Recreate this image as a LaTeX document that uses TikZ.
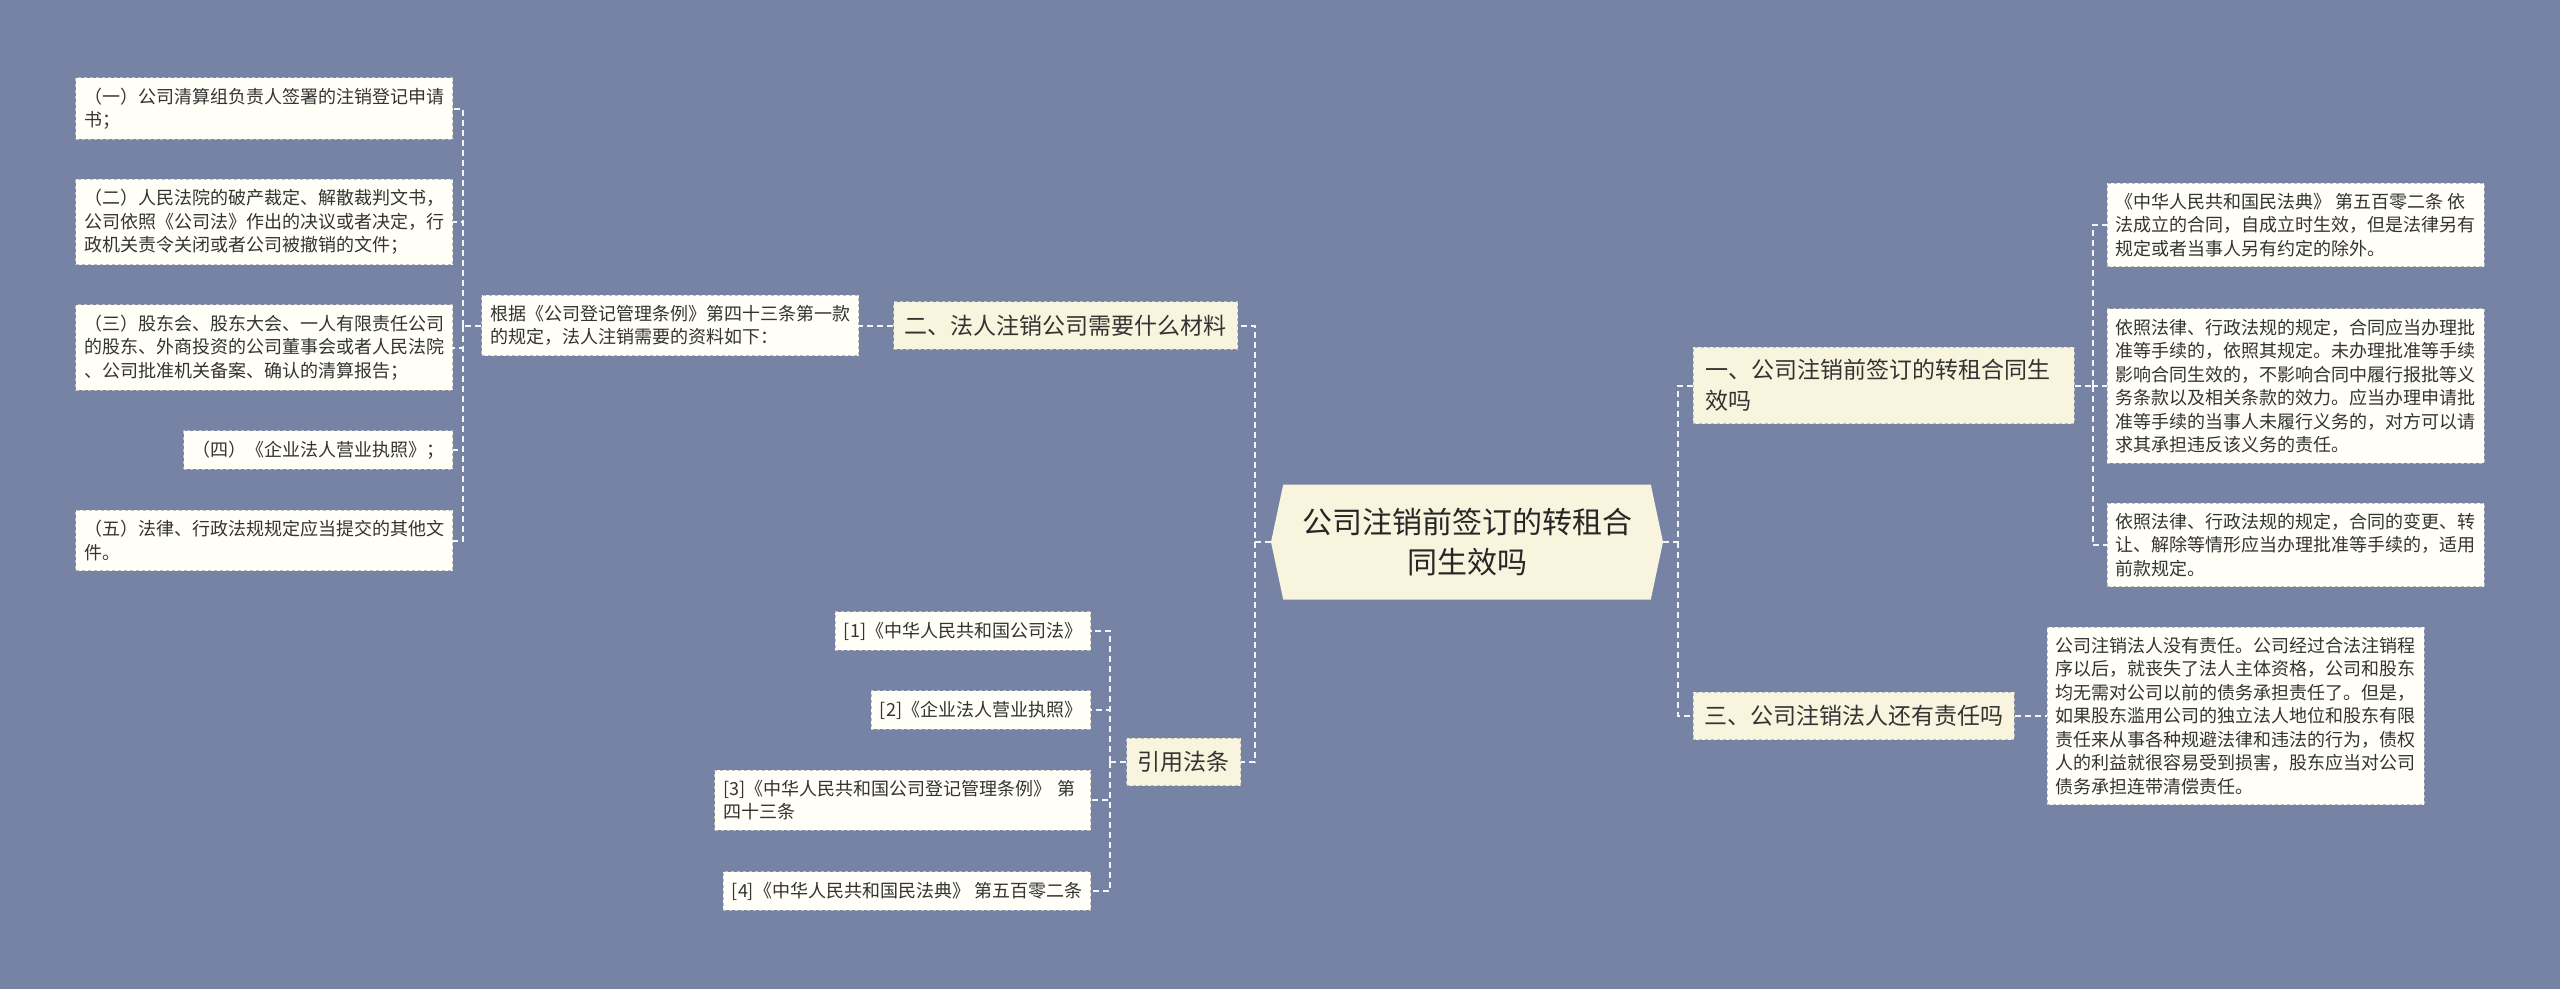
\documentclass[tikz,border=0pt]{standalone}
\usepackage{fontspec}
\setmainfont{Noto Sans CJK SC}
\usetikzlibrary{positioning, shapes.symbols}

\definecolor{bgblue}{RGB}{118,131,164}
\definecolor{leaffill}{RGB}{255,254,247}
\definecolor{branchfill}{RGB}{249,244,222}
\definecolor{edgegray}{RGB}{190,190,190}
\definecolor{linkwhite}{RGB}{242,244,248}
\definecolor{inkgray}{RGB}{51,51,51}

\begin{document}
\begin{tikzpicture}[x=1pt, y=-1pt,
    leaf/.style={draw=edgegray, dashed, line width=0.8pt, fill=leaffill, text=inkgray,
      font=\fontsize{18}{23.5}\selectfont, align=left, inner xsep=8.5pt, inner ysep=10pt},
    branch/.style={draw=edgegray, dashed, line width=0.8pt, fill=branchfill, text=inkgray,
      font=\fontsize{23}{31}\selectfont, align=left, inner xsep=11pt, inner ysep=13pt},
    root/.style={signal, signal to=west and east, signal pointer angle=156,
      fill=branchfill, text=black!85, font=\fontsize{30}{40}\selectfont, align=center,
      minimum width=392pt, minimum height=115pt, inner sep=0pt},
    link/.style={draw=linkwhite, line width=2pt, dash pattern=on 6pt off 4pt}]
    \fill[bgblue] (0,0) rectangle (2560,989);

    % Root
    \node[root] (root) at (1467,542) {公司注销前签订的转租合\\同生效吗};

    % Branches
    \node[branch, anchor=east]  (b2)   at (1238,325.5) {二、法人注销公司需要什么材料};
    \node[branch, anchor=east]  (cite) at (1241,762)   {引用法条};
    \node[branch, anchor=west, text width=356pt, inner xsep=12.5pt, inner ysep=12pt]
                                (b1)   at (1693,385.5) {一、公司注销前签订的转租合同生\\效吗};
    \node[branch, anchor=west]  (b3)   at (1693,716)   {三、公司注销法人还有责任吗};

    % Materials
    \node[leaf, left=34pt of b2] (basis) {根据《公司登记管理条例》第四十三条第一款\\的规定，法人注销需要的资料如下：};
    \node[leaf, anchor=east] (l1) at (453,108.5) {（一）公司清算组负责人签署的注销登记申请\\书；};
    \node[leaf, anchor=east] (l2) at (453,222)   {（二）人民法院的破产裁定、解散裁判文书，\\公司依照《公司法》作出的决议或者决定，行\\政机关责令关闭或者公司被撤销的文件；};
    \node[leaf, anchor=east] (l3) at (453,347.5) {（三）股东会、股东大会、一人有限责任公司\\的股东、外商投资的公司董事会或者人民法院\\、公司批准机关备案、确认的清算报告；};
    \node[leaf, anchor=east] (l4) at (453,450)   {（四）《企业法人营业执照》；};
    \node[leaf, anchor=east] (l5) at (453,540.5) {（五）法律、行政法规规定应当提交的其他文\\件。};

    % Citations
    \node[leaf, anchor=east] (c1) at (1091,631) {[1]《中华人民共和国公司法》};
    \node[leaf, anchor=east] (c2) at (1091,710) {[2]《企业法人营业执照》};
    \node[leaf, anchor=east, text width=359pt] (c3) at (1091,800) {[3]《中华人民共和国公司登记管理条例》 第\\四十三条};
    \node[leaf, anchor=east] (c4) at (1091,891) {[4]《中华人民共和国民法典》 第五百零二条};

    % Contract effect
    \node[leaf, anchor=west] (ra) at (2107,225) {《中华人民共和国民法典》 第五百零二条 依\\法成立的合同，自成立时生效，但是法律另有\\规定或者当事人另有约定的除外。};
    \node[leaf, anchor=west] (rb) at (2107,386) {依照法律、行政法规的规定，合同应当办理批\\准等手续的，依照其规定。未办理批准等手续\\影响合同生效的，不影响合同中履行报批等义\\务条款以及相关条款的效力。应当办理申请批\\准等手续的当事人未履行义务的，对方可以请\\求其承担违反该义务的责任。};
    \node[leaf, anchor=west] (rc) at (2107,545) {依照法律、行政法规的规定，合同的变更、转\\让、解除等情形应当办理批准等手续的，适用\\前款规定。};

    % Liability
    \node[leaf, right=32pt of b3] (rd) {公司注销法人没有责任。公司经过合法注销程\\序以后，就丧失了法人主体资格，公司和股东\\均无需对公司以前的债务承担责任了。但是，\\如果股东滥用公司的独立法人地位和股东有限\\责任来从事各种规避法律和违法的行为，债权\\人的利益就很容易受到损害，股东应当对公司\\债务承担连带清偿责任。};

    % Links, left wing
    \coordinate (jL) at (1255,542);
    \draw[link] (root.west) -- (jL) |- (b2.east);
    \draw[link] (jL) |- (cite.east);
    \draw[link] (b2.west) -- (basis.east);
    \draw[link] (basis.west) -- ++(-18,0) coordinate (jM);
    \foreach \i in {1,...,5}
      \draw[link] (jM) |- (l\i.east);
    \draw[link] (cite.west) -- ++(-16,0) coordinate (jC);
    \foreach \i in {1,...,4}
      \draw[link] (jC) |- (c\i.east);

    % Links, right wing
    \coordinate (jR) at (1678,542);
    \draw[link] (root.east) -- (jR) |- (b1.west);
    \draw[link] (jR) |- (b3.west);
    \draw[link] (b1.east) -- ++(18,0) coordinate (jS);
    \foreach \n in {ra,rb,rc}
      \draw[link] (jS) |- (\n.west);
    \draw[link] (b3.east) -- (rd.west);
\end{tikzpicture}
\end{document}
